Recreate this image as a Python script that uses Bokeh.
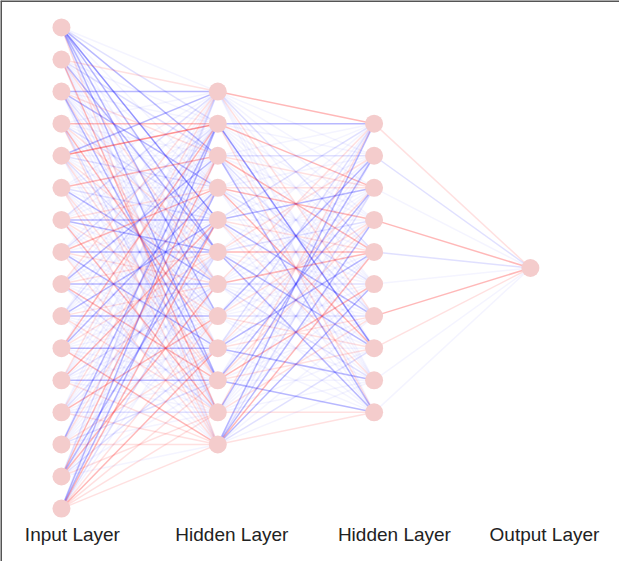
from bokeh.plotting import figure
from bokeh.models import ColumnDataSource, Span, Range1d
from bokeh.core.properties import value
from bokeh.embed import file_html
from bokeh.resources import INLINE

# ---------------- data ----------------
layer_names = ["Input Layer", "Hidden Layer", "Hidden Layer", "Output Layer"]
layer_sizes = [16, 12, 10, 1]

# connection weights (sign: + red / - blue, magnitude: strength 0..3)
w_input_hidden1 = [
    [0, -1, -2, 0, -3, -2, 0, -2, 0, -2, 0, 1],
    [1, 0, -1, 0, 0, -2, 1, 0, 0, 0, 2, 0],
    [-2, 0, 1, -2, 0, 0, -1, 0, 1, -2, 0, 0],
    [0, 2, 0, 0, -1, 1, 0, 0, 2, 0, -1, 1],
    [-2, 3, 0, -1, 0, 0, 1, -1, 0, 1, 0, 0],
    [0, 0, 2, 0, -1, 0, -2, 0, 0, 1, 0, 1],
    [-1, 0, 0, 1, -2, -2, 0, 1, 0, 0, 2, 0],
    [0, -1, 0, 2, 0, -2, 1, 0, -2, 0, 0, 1],
    [1, 0, -2, 0, 0, 1, -2, 0, 0, 2, -1, 0],
    [0, -1, 0, 0, -2, 0, 1, -2, 0, 0, 1, 0],
    [0, 2, 0, -2, 0, 1, 0, 0, -2, 0, 0, 2],
    [1, 0, 0, 0, 2, 0, -1, 0, 0, -2, 0, 1],
    [0, 0, 1, 0, 0, -1, 0, 2, 0, 0, -1, 1],
    [0, -2, 0, 1, 0, 0, 0, 0, 1, -1, 0, 1],
    [-1, 0, 2, 0, -2, 0, 2, 0, -1, 0, 1, 0],
    [0, -2, 0, -2, 2, -1, 0, 1, 2, 1, 1, 1],
]
w_hidden1_hidden2 = [
    [2, 0, 0, 0, -1, 0, 1, 0, 0, 0],
    [-2, 0, 2, 0, 0, 0, 0, -3, 0, 1],
    [0, -1, 1, 0, 2, 0, -1, 0, 0, -2],
    [0, 0, 1, 2, 0, -1, 0, 2, 0, 0],
    [-1, 0, -2, 0, 1, 0, -2, 0, 1, 0],
    [0, 1, 0, -1, 2, 0, 0, -2, 0, -2],
    [1, 0, 0, 0, 2, -1, 0, 0, -1, 0],
    [0, -2, 0, 1, 0, 0, -1, 1, 0, 0],
    [-1, 0, 1, 0, -2, 0, 1, 0, -2, 0],
    [0, 0, -2, 1, 0, 2, 0, 1, 0, -2],
    [1, -2, 0, 0, 0, 0, 1, 0, 0, 1],
    [-2, 0, -1, -2, 2, -2, 0, -1, 0, 1],
]
w_hidden2_output = [[1], [-1], [0], [2], [-1], [0], [2], [1], [0], [0]]
weights = [w_input_hidden1, w_hidden1_hidden2, w_hidden2_output]

# label positions (layer units)
label_x = [0.07, 1.09, 2.13, 3.09]

# ---------------- styling ----------------
NODE_COLOR = "#f4cccc"
POS_COLOR = "#ff3030"
NEG_COLOR = "#3030ff"
ALPHA = {0: 0.05, 1: 0.15, 2: 0.34, 3: 0.52}


def node_y(layer, i):
    n = layer_sizes[layer]
    return (n - 1) / 2.0 - i


# edges
ex0, ey0, ex1, ey1, ecol, ealpha = [], [], [], [], [], []
for l, W in enumerate(weights):
    for i, row in enumerate(W):
        for j, w in enumerate(row):
            ex0.append(l)
            ey0.append(node_y(l, i))
            ex1.append(l + 1)
            ey1.append(node_y(l + 1, j))
            ecol.append(POS_COLOR if w > 0 else NEG_COLOR)
            ealpha.append(ALPHA[abs(w)])
edges = ColumnDataSource(dict(x0=ex0, y0=ey0, x1=ex1, y1=ey1, c=ecol, a=ealpha))

# nodes
nx, ny = [], []
for l, n in enumerate(layer_sizes):
    for i in range(n):
        nx.append(l)
        ny.append(node_y(l, i))
nodes = ColumnDataSource(dict(x=nx, y=ny))

labels = ColumnDataSource(dict(
    x=label_x,
    y=[-8.3] * len(layer_names),
    t=layer_names,
))

W, H = 619, 561
p = figure(width=W, height=H, output_backend="svg", toolbar_location=None,
           x_range=Range1d(-0.39, 3.57), y_range=Range1d(-9.15, 8.34),
           min_border=0)
p.axis.visible = False
p.xgrid.visible = False
p.ygrid.visible = False
p.outline_line_color = None
p.background_fill_color = "white"

p.segment("x0", "y0", "x1", "y1", source=edges, line_color="c",
          line_alpha="a", line_width=1.5)
p.scatter("x", "y", source=nodes, size=18, marker="circle",
          fill_color=NODE_COLOR, line_color=None)
p.text("x", "y", text="t", source=labels, text_align="center",
       text_baseline="middle", text_font=value("Liberation Sans"),
       text_font_size="19px", text_color="#222222")

p.add_layout(Span(location=8.34, dimension="width", line_color="#555555",
                  line_width=3))
p.add_layout(Span(location=-0.39, dimension="height", line_color="#555555",
                  line_width=3))

open("out.html", "w").write(file_html(p, INLINE))
